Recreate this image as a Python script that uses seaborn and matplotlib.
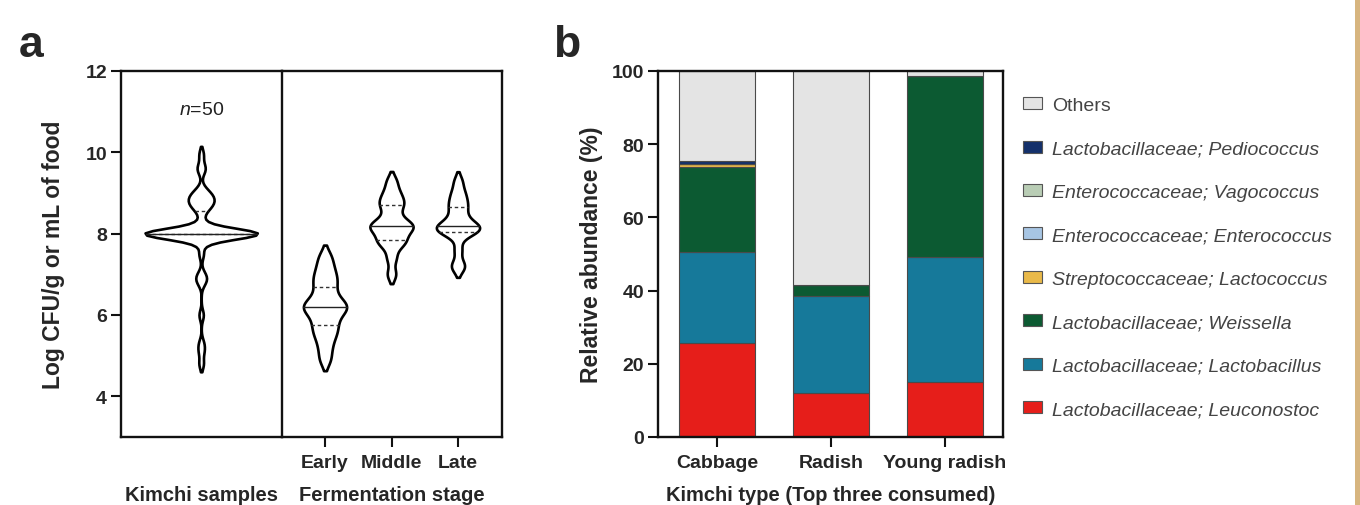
import numpy as np
import pandas as pd
import matplotlib
matplotlib.use("Agg")
import matplotlib.pyplot as plt
from matplotlib.patches import Patch, Rectangle
import seaborn as sns

sns.set_theme(style="ticks")
plt.rcParams['font.family'] = ['Liberation Sans', 'DejaVu Sans']
plt.rcParams['mathtext.fontset'] = 'custom'
plt.rcParams['mathtext.it'] = 'Liberation Sans:italic'
plt.rcParams['mathtext.rm'] = 'Liberation Sans'

# ---------------- data: panel a ----------------
kimchi_samples = [4.8, 5.1, 5.3, 6.0, 6.8, 6.9, 7.0, 7.5, 7.8,
                  7.96, 7.97, 7.98, 7.98, 7.99, 7.99, 8.0, 8.0, 8.0, 8.0,
                  8.0, 8.0, 8.0, 8.0, 8.0, 8.0, 8.0, 8.0, 8.0, 8.01, 8.01,
                  8.02, 8.02, 8.03, 8.04, 8.05, 8.3,
                  8.55, 8.65, 8.7, 8.75, 8.8, 8.85, 8.9, 8.95, 9.0, 9.1,
                  9.55, 9.65, 9.95]
stage_labels = ["Early", "Middle", "Late"]
early = [4.9, 5.2, 5.45, 5.6, 5.75, 5.9, 6.05, 6.15, 6.2, 6.25, 6.35, 6.5,
         6.7, 6.85, 7.0, 7.2, 7.45]
middle = [7.0, 7.4, 7.7, 7.8, 7.85, 8.0, 8.1, 8.15, 8.2, 8.25, 8.3, 8.5,
          8.7, 8.75, 8.9, 9.05, 9.3]
late = [7.15, 7.25, 7.6, 7.95, 8.05, 8.1, 8.1, 8.15, 8.2, 8.25, 8.35, 8.5,
        8.65, 8.75, 8.9, 9.05, 9.3]

# ---------------- data: panel b ----------------
kimchi_types = ["Cabbage", "Radish", "Young radish"]
leuconostoc = [25.7, 11.9, 14.9]
lactobacillus = [24.8, 26.7, 34.2]
weissella = [23.3, 2.9, 49.6]
lactococcus = [0.8, 0.0, 0.0]
enterococcus = [0.0, 0.0, 0.0]
vagococcus = [0.0, 0.0, 0.0]
pediococcus = [0.8, 0.0, 0.0]
others = [24.6, 58.5, 1.3]

series_names = ["Lactobacillaceae; Leuconostoc", "Lactobacillaceae; Lactobacillus",
                "Lactobacillaceae; Weissella", "Streptococcaceae; Lactococcus",
                "Enterococcaceae; Enterococcus", "Enterococcaceae; Vagococcus",
                "Lactobacillaceae; Pediococcus", "Others"]
series_values = [leuconostoc, lactobacillus, weissella, lactococcus,
                 enterococcus, vagococcus, pediococcus, others]
series_colors = ["#e61e1a", "#16799a", "#0c5a32", "#e9b949",
                 "#a7c5e3", "#b9cdb5", "#14306b", "#e4e4e4"]

# ---------------- figure ----------------
W, H = 1360, 506
fig = plt.figure(figsize=(W / 100, H / 100), dpi=100)

def fx(px):
    return px / W

def fy(py):
    return 1 - py / H

ax_top, ax_bot = 72, 438
axL = fig.add_axes([fx(121), fy(ax_bot), fx(282) - fx(121), (ax_bot - ax_top) / H])
axR = fig.add_axes([fx(282), fy(ax_bot), fx(502) - fx(282), (ax_bot - ax_top) / H], sharey=axL)
axB = fig.add_axes([fx(658), fy(ax_bot), fx(1003) - fx(658), (ax_bot - ax_top) / H])
axR.patch.set_visible(False)
axL.set_zorder(3)
axL.patch.set_visible(False)

vkw = dict(color="white", linecolor="black", linewidth=1.9, inner="quart",
           density_norm="width", cut=1.5,
           inner_kws=dict(linewidth=1.0, color="#333333"))

sns.violinplot(x=["Kimchi samples"] * len(kimchi_samples), y=kimchi_samples,
               ax=axL, width=1.68, bw_adjust=0.28, **vkw)

stage_df = pd.DataFrame({
    "stage": [stage_labels[0]] * len(early) + [stage_labels[1]] * len(middle)
             + [stage_labels[2]] * len(late),
    "value": early + middle + late,
})
sns.violinplot(data=stage_df, x="stage", y="value", order=stage_labels, ax=axR,
               width=0.65, bw_adjust=0.45, **vkw)

# median solid, quartiles dashed
for ax in (axL, axR):
    lines = list(ax.lines)
    for i, ln in enumerate(lines):
        if i % 3 == 1:
            ln.set_linestyle("-")
            ln.set_color("#222222")
        else:
            ln.set_dashes((2.5, 2))

tick_font = dict(fontsize=14, fontweight="bold")
label_font = dict(fontsize=14.5, fontweight="bold")

for ax in (axL, axR, axB):
    for s in ax.spines.values():
        s.set_linewidth(1.7)
        s.set_color("#111111")
    ax.tick_params(axis="both", direction="out", length=7.5, width=1.5, color="#111111",
                   labelsize=14, pad=2.5)
    ax.tick_params(axis="x", pad=5)

axL.set_ylim(3, 12)
axL.set_yticks([4, 6, 8, 10, 12])
axL.set_yticklabels(["4", "6", "8", "10", "12"], **tick_font)
axL.set_xlim(-1.2, 1.21)
axL.set_xticks([])
axL.set_xlabel("Kimchi samples", **label_font)
axL.xaxis.set_label_coords(0.5, -0.13)
axL.set_ylabel("Log CFU/g or mL of food", fontsize=16.5, fontweight="bold")
axL.yaxis.set_label_coords(-0.345, 0.5)
axL.text(0, 11.05, r"$n$=50", ha="center", va="center", fontsize=14, color="#222222")

axR.set_xlim(-0.647, 2.662)
axR.spines["left"].set_visible(False)
axR.tick_params(axis="y", left=False, labelleft=False)
axR.set_xticks([0, 1, 2])
axR.set_xticklabels(stage_labels, **tick_font)
axR.set_xlabel("Fermentation stage", **label_font)
axR.xaxis.set_label_coords(0.5, -0.13)
axR.set_ylabel("")

# ---------------- panel b: stacked bars ----------------
bottom = np.zeros(len(kimchi_types))
for name, vals, col in zip(series_names, series_values, series_colors):
    sns.barplot(x=kimchi_types, y=vals, bottom=bottom, color=col, width=0.665,
                edgecolor="#4a4a4a", linewidth=0.8, saturation=1, ax=axB)
    bottom = bottom + np.array(vals)

axB.set_ylim(0, 100)
axB.set_xlim(-0.52, 2.51)
axB.set_yticks([0, 20, 40, 60, 80, 100])
axB.set_yticklabels(["0", "20", "40", "60", "80", "100"], **tick_font)
axB.set_xticks([0, 1, 2])
axB.set_xticklabels(kimchi_types, **tick_font)
axB.set_ylabel("Relative abundance (%)", fontsize=16.5, fontweight="bold")
axB.yaxis.set_label_coords(-0.158, 0.5)
axB.set_xlabel("Kimchi type (Top three consumed)", **label_font)
axB.xaxis.set_label_coords(0.5, -0.13)

handles = [Patch(facecolor=c, edgecolor="#555555", linewidth=0.8)
           for c in series_colors[::-1]]
labels = series_names[::-1]
leg = fig.legend(handles, labels, loc="upper left",
                 bbox_to_anchor=(fx(1023), fy(98)), frameon=False,
                 fontsize=14, handlelength=0.98, handleheight=0.57,
                 handletextpad=0.5, labelspacing=1.36, borderpad=0,
                 borderaxespad=0)
for t in leg.get_texts():
    t.set_color("#444444")
    if t.get_text() != "Others":
        t.set_fontstyle("italic")

# panel letters
fig.text(fx(19), fy(57), "a", fontsize=32, fontweight="bold", va="baseline")
fig.text(fx(553), fy(57), "b", fontsize=32, fontweight="bold", va="baseline")

# right edge strip
fig.patches.append(Rectangle((fx(1355), 0), fx(5), 1, transform=fig.transFigure,
                             facecolor="#d7b57f", edgecolor="none"))

fig.savefig("out.png", dpi=100)
